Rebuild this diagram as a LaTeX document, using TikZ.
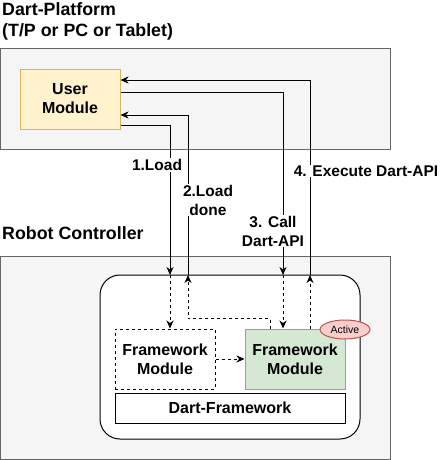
\documentclass[tikz,border=0pt]{standalone}
\usepackage{fontspec}
\setmainfont{Liberation Sans}
\usetikzlibrary{arrows.meta,shapes.geometric}
\definecolor{bggray}{HTML}{F5F5F5}
\definecolor{bgline}{HTML}{666666}
\definecolor{userfill}{HTML}{FFF2CC}
\definecolor{userline}{HTML}{D6B656}
\definecolor{greenfill}{HTML}{D5E8D4}
\definecolor{greenline}{HTML}{82B366}
\definecolor{redfill}{HTML}{F8CECC}
\definecolor{redline}{HTML}{B85450}
\tikzset{
  area/.style={draw=bgline, fill=bggray, line width=1pt},
  boxtext/.style={font=\fontsize{16}{19}\selectfont\bfseries, align=center},
  modbox/.style={boxtext, minimum width=100pt, minimum height=60pt, inner sep=0pt, line width=1pt},
  title/.style={font=\fontsize{17.8}{21}\selectfont\bfseries, align=left, inner sep=0pt, anchor=north west},
  lbl/.style={font=\fontsize{15.5}{19}\selectfont\bfseries, align=center, fill=white, inner sep=1pt},
  arr/.style={line width=1pt, -{Stealth[length=8pt,width=7pt,inset=2.5pt]}},
  darr/.style={arr, dashed, dash pattern=on 3pt off 3pt},
}
\begin{document}
\begin{tikzpicture}[x=1pt,y=-1pt]
\useasboundingbox (0,0) rectangle (441,460);
% areas
\draw[area] (0.5,49) rectangle (390,149);
\draw[area] (0.5,256) rectangle (390,459);
\node[title] (ttl1) at (2,2) {Dart-Platform\\(T/P or PC or Tablet)};
\node[title] (ttl2) at (2,226) {Robot Controller};
% user module
\node[modbox, draw=userline, fill=userfill] (user) at (70,99) {User\\Module};
% robot inner
\draw[line width=1pt, fill=white, rounded corners=20pt] (100,275) rectangle (360,439);
\node[modbox, draw, dashed, dash pattern=on 3pt off 3pt, fill=white] (fm1) at (165,359) {Framework\\Module};
\node[modbox, draw=greenline, fill=greenfill] (fm2) at (295,359) {Framework\\Module};
\node[boxtext, draw, line width=1pt, minimum width=230pt, minimum height=30pt, inner sep=0pt] (df) at (230,408) {Dart-Framework};
% coordinates on the rounded box top
\coordinate (c1) at (170,275);
\coordinate (c2) at (188,275);
\coordinate (c3) at (283,275);
\coordinate (c4) at (310,275);
% solid connectors
\draw[arr] ([yshift=-26pt]user.east) -| (c1);
\draw[arr] (c2) |- ([yshift=-16pt]user.east);
\draw[arr] ([yshift=7pt]user.east) -| (c3);
\draw[arr] (c4) |- ([yshift=19pt]user.east);
% dashed connectors
\draw[darr] (c1) -- (c1 |- fm1.north);
\draw[darr] ([xshift=-25pt]fm2.north) -- ++(0,10pt) -| (c2);
\draw[darr] (c3) -- (c3 |- fm2.north);
\draw[darr] ([xshift=15pt]fm2.north) -- (c4);
\draw[darr] (fm1.east) -- (fm2.west);
\node[ellipse, draw=redline, fill=redfill, line width=1pt, minimum width=50pt, minimum height=19pt, inner sep=0pt, font=\fontsize{10.5}{12}\selectfont] (act) at (345,329.5) {Active};
% labels
\node[lbl] (l1) at (157,165) {1.Load};
\node[lbl] (l2) at (208,200) {2.Load\\done};
\node[lbl] (l3) at (273,231) {3. Call\\Dart-API};
\node[lbl] (l4) at (366,171) {4. Execute Dart-API};
\end{tikzpicture}
\end{document}
